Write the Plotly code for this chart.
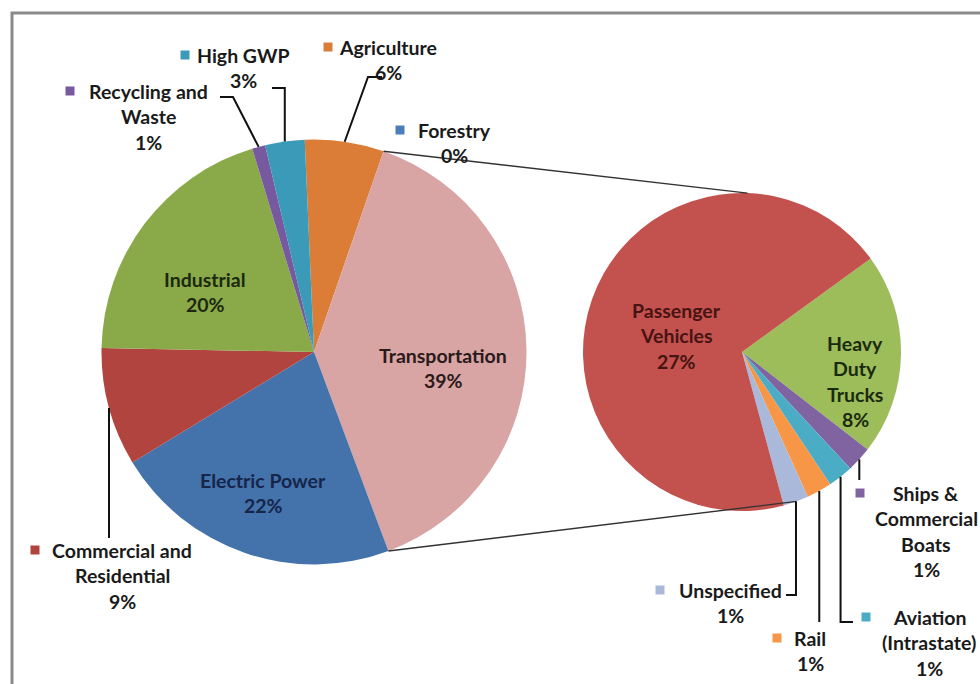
import math
import plotly.graph_objects as go

W, H = 980, 684

# Share of total emissions by sector (percent)
sectors = ["Agriculture", "Forestry", "Transportation", "Electric Power",
           "Commercial and Residential", "Industrial", "Recycling and Waste", "High GWP"]
sector_share = [6, 0, 39, 22, 9, 20, 1, 3]
sector_colors = ["#DB7D36", "#4A7EBB", "#D9A4A4", "#4472AB",
                 "#B2443F", "#8AAA49", "#7759A0", "#3B9AB8"]

# Transportation broken down by mode (percent of total emissions)
modes = ["Heavy Duty Trucks", "Ships & Commercial Boats", "Aviation (Intrastate)",
         "Rail", "Unspecified", "Passenger Vehicles"]
mode_share = [8, 1, 1, 1, 1, 27]
mode_colors = ["#9DBC5A", "#8064A2", "#4BACC6", "#F79646", "#AAB9DA", "#C3514E"]

# How each label is wrapped
label_lines = {
    "Agriculture": ["Agriculture"],
    "Forestry": ["Forestry"],
    "Transportation": ["Transportation"],
    "Electric Power": ["Electric Power"],
    "Commercial and Residential": ["Commercial and", "Residential"],
    "Industrial": ["Industrial"],
    "Recycling and Waste": ["Recycling and", "Waste"],
    "High GWP": ["High GWP"],
    "Heavy Duty Trucks": ["Heavy", "Duty", "Trucks"],
    "Ships & Commercial Boats": ["Ships &", "Commercial", "Boats"],
    "Aviation (Intrastate)": ["Aviation", "(Intrastate)"],
    "Rail": ["Rail"],
    "Unspecified": ["Unspecified"],
    "Passenger Vehicles": ["Passenger", "Vehicles"],
}

# Pie geometry in page pixels
MAIN_CX, MAIN_CY, MAIN_R, MAIN_ROT = 314, 352, 212.5, -2.5
SUB_CX, SUB_CY, SUB_R, SUB_ROT = 742, 352, 159, 54

# Label placement: text centre x, first-line y, legend-key x (None = no key), text colour
label_pos = {
    "High GWP": (243, 55, 185, "#1a1a1a"),
    "Agriculture": (388, 47, 328, "#1a1a1a"),
    "Recycling and Waste": (148, 91, 70, "#1a1a1a"),
    "Forestry": (454, 130, 400, "#1a1a1a"),
    "Commercial and Residential": (122, 550, 35, "#1a1a1a"),
    "Industrial": (205, 279, None, "#1c2810"),
    "Transportation": (443, 355, None, "#2a1a1a"),
    "Electric Power": (263, 480, None, "#16254a"),
    "Passenger Vehicles": (676, 310, None, "#471412"),
    "Heavy Duty Trucks": (855, 343, None, "#1a2a0e"),
    "Ships & Commercial Boats": (926, 493, 860, "#1a1a1a"),
    "Unspecified": (730, 590, 660, "#1a1a1a"),
    "Rail": (810, 638, 777, "#1a1a1a"),
    "Aviation (Intrastate)": (929, 617, 866, "#1a1a1a"),
}
LINE_GAP = 25.5
FONT = "Lato, 'Open Sans', sans-serif"
FONT_SIZE = 19.5


def slice_bounds(values, rot):
    total = float(sum(values))
    out, a = [], rot
    for v in values:
        span = 360.0 * v / total
        out.append((a, a + span))
        a += span
    return out


def edge_point(cx, cy, r, ang):
    t = math.radians(ang)
    return cx + r * math.sin(t), cy - r * math.cos(t)


def domain(cx, cy, r):
    return dict(x=[(cx - r) / W, (cx + r) / W], y=[1 - (cy + r) / H, 1 - (cy - r) / H])


fig = go.Figure()

fig.add_trace(go.Pie(
    labels=sectors, values=sector_share, sort=False, direction="clockwise",
    rotation=MAIN_ROT, marker=dict(colors=sector_colors, line=dict(width=0)),
    textinfo="none", hoverinfo="label+percent", showlegend=False,
    domain=domain(MAIN_CX, MAIN_CY, MAIN_R),
))
fig.add_trace(go.Pie(
    labels=modes, values=mode_share, sort=False, direction="clockwise",
    rotation=SUB_ROT, marker=dict(colors=mode_colors, line=dict(width=0)),
    textinfo="none", hoverinfo="label+value", showlegend=False,
    domain=domain(SUB_CX, SUB_CY, SUB_R),
))
# pixel-space overlay axes for lines and labels
fig.add_trace(go.Scatter(x=[0], y=[0], mode="markers", marker=dict(opacity=0),
                         hoverinfo="skip", showlegend=False))

main_b = dict(zip(sectors, slice_bounds(sector_share, MAIN_ROT)))
sub_b = dict(zip(modes, slice_bounds(mode_share, SUB_ROT)))
main_mid = {k: (a + b) / 2 for k, (a, b) in main_b.items()}
sub_mid = {k: (a + b) / 2 for k, (a, b) in sub_b.items()}

shapes = []


def polyline(pts, width=2.0, color="#111111"):
    d = "M " + " L ".join(f"{x:.2f},{y:.2f}" for x, y in pts)
    shapes.append(dict(type="path", path=d, xref="x", yref="y", layer="above",
                       line=dict(color=color, width=width)))


# connectors from the transportation slice to the breakdown pie
t0, t1 = main_b["Transportation"]
polyline([edge_point(MAIN_CX, MAIN_CY, MAIN_R, t0), edge_point(SUB_CX, SUB_CY, SUB_R, 2)],
         width=1.4, color="#333333")
polyline([edge_point(MAIN_CX, MAIN_CY, MAIN_R, t1), edge_point(SUB_CX, SUB_CY, SUB_R, 160)],
         width=1.4, color="#333333")

# leader lines for the small slices
p = edge_point(MAIN_CX, MAIN_CY, MAIN_R, main_mid["Recycling and Waste"])
polyline([p, (233, 97), (220, 97)])
p = edge_point(MAIN_CX, MAIN_CY, MAIN_R, main_mid["High GWP"])
polyline([p, (p[0], 88), (272, 88)])
p = edge_point(MAIN_CX, MAIN_CY, MAIN_R, main_mid["Agriculture"])
polyline([p, (368, 77), (382, 77)])
lx = 109
ly = MAIN_CY + math.sqrt(MAIN_R ** 2 - (lx - MAIN_CX) ** 2)
polyline([(lx, ly), (lx, 538)])

p = edge_point(SUB_CX, SUB_CY, SUB_R, sub_mid["Ships & Commercial Boats"])
polyline([p, (p[0], 480)])
p = edge_point(SUB_CX, SUB_CY, SUB_R, sub_mid["Aviation (Intrastate)"])
polyline([p, (p[0], 622), (853, 622)])
p = edge_point(SUB_CX, SUB_CY, SUB_R, sub_mid["Rail"])
polyline([p, (p[0], 622)])
p = edge_point(SUB_CX, SUB_CY, SUB_R, sub_mid["Unspecified"])
polyline([p, (p[0], 595), (786, 595)])

# chart-area border
shapes.append(dict(type="rect", xref="x", yref="y", x0=12, y0=13, x1=1010, y1=720,
                   line=dict(color="#8a8a8a", width=3), fillcolor="rgba(0,0,0,0)",
                   layer="above"))

annotations = []
color_of = dict(zip(sectors, sector_colors))
color_of.update(dict(zip(modes, mode_colors)))
value_of = dict(zip(sectors, sector_share))
value_of.update(dict(zip(modes, mode_share)))

for name, (cx, y0, kx, tcol) in label_pos.items():
    lines = label_lines[name] + [f"{value_of[name]:g}%"]
    for i, txt in enumerate(lines):
        annotations.append(dict(
            x=cx, y=y0 + i * LINE_GAP, xref="x", yref="y", text=txt, showarrow=False,
            xanchor="center", yanchor="middle",
            font=dict(family=FONT, size=FONT_SIZE, color=tcol, weight="bold"),
        ))
    if kx is not None:
        s = 4.5
        shapes.append(dict(type="rect", xref="x", yref="y", x0=kx - s, x1=kx + s,
                           y0=y0 - s, y1=y0 + s, line=dict(width=0),
                           fillcolor=color_of[name], layer="above"))

fig.update_layout(
    width=W, height=H, margin=dict(l=0, r=0, t=0, b=0),
    paper_bgcolor="white", plot_bgcolor="rgba(0,0,0,0)",
    xaxis=dict(range=[0, W], visible=False, fixedrange=True, domain=[0, 1]),
    yaxis=dict(range=[H, 0], visible=False, fixedrange=True, domain=[0, 1]),
    shapes=shapes, annotations=annotations,
)

fig.write_html("out.html")
